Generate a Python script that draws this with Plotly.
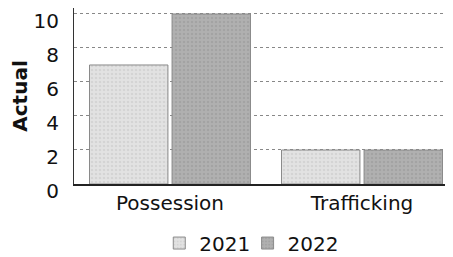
import plotly.graph_objects as go

categories = ["Possession", "Trafficking"]
years = ["2021", "2022"]
values_2021 = [7, 2]
values_2022 = [10, 2]

colors = {"2021": "#e2e2e2", "2022": "#b0b0b0"}
fg = {"2021": "#c6c6c6", "2022": "#969696"}
legend_ids = {"2021": "legend", "2022": "legend2"}

fig = go.Figure()
for yr, vals in zip(years, [values_2021, values_2022]):
    fig.add_trace(go.Bar(
        name=yr, x=categories, y=vals, legend=legend_ids[yr],
        marker=dict(color=colors[yr],
                    line=dict(color="#8a8a8a", width=1),
                    pattern=dict(shape=".", fgcolor=fg[yr], bgcolor=colors[yr], size=4, solidity=0.3)),
    ))

leg_common = dict(orientation="h", xanchor="left", yref="container", y=0.056, yanchor="middle",
                  font=dict(size=20), itemwidth=30, bgcolor="rgba(0,0,0,0)")

# the page body adds an 8px offset, so the figure is sized to the remaining window
fig.update_layout(
    width=445, height=249,
    margin=dict(l=66, r=0, t=0, b=73, autoexpand=False),
    paper_bgcolor="white", plot_bgcolor="white",
    barmode="group", bargap=0.14, bargroupgap=0.05,
    font=dict(family="DejaVu Sans", size=20, color="#111"),
    showlegend=True,
    legend=dict(x=0.225, **leg_common),
    legend2=dict(x=0.458, **leg_common),
    xaxis=dict(range=[-0.5, 1.474], showline=True, linecolor="#222", linewidth=2,
               ticks="", tickfont=dict(size=20), showgrid=False, automargin=False),
    yaxis=dict(range=[0, 10.35], tickvals=[0, 2, 4, 6, 8, 10], showline=True,
               linecolor="#333", linewidth=1, showgrid=True, gridcolor="#888",
               griddash="dot", gridwidth=1, ticks="", ticklabelstandoff=10,
               ticklabelshift=7,
               tickfont=dict(size=20), automargin=False,
               title=dict(text="<b>Actual</b>", font=dict(size=20), standoff=6)),
)
fig.write_html("out.html")
